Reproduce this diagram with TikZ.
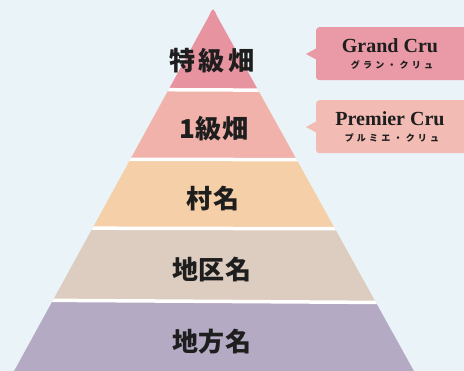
\documentclass[tikz,border=0pt]{standalone}
\usepackage{fontspec}
\setmainfont{Liberation Serif}
\newfontfamily\jp{Noto Sans CJK JP}
\definecolor{bgc}{HTML}{EAF4F8}
\definecolor{bandA}{HTML}{E893A0}
\definecolor{bandB}{HTML}{F0B2AA}
\definecolor{bandC}{HTML}{F5CFA8}
\definecolor{bandD}{HTML}{DDCCC0}
\definecolor{bandE}{HTML}{B4AAC3}
\definecolor{gcc}{HTML}{E99AA6}
\definecolor{pcc}{HTML}{F2BBB3}
\definecolor{ink}{HTML}{1E1E1E}
\newcommand\ks{\kern3.2pt}
\begin{document}
\begin{tikzpicture}[x=1pt,y=-1pt,
  jplabel/.style={font=\jp\bfseries\fontsize{26}{26}\selectfont, text=ink, inner sep=0pt},
  entitle/.style={font=\bfseries\fontsize{20}{20}\selectfont, text=ink, inner sep=0pt, anchor=base},
  kana/.style={font=\jp\bfseries\fontsize{9}{9}\selectfont, text=ink, inner sep=0pt},
  callbox/.style={rounded corners=3pt, minimum width=160pt, minimum height=53pt, anchor=north west, inner sep=0pt},
  sep/.style={draw=white, line width=3.5pt}]
\fill[bgc] (0,0) rectangle (464,371);
\useasboundingbox (0,0) rectangle (464,371);
% pyramid
\begin{scope}
\clip (13,373) -- (209,16) .. controls (213,7) .. (217,16) -- (415,373) -- cycle;
\fill[bandA] (0,0) rectangle (464,90);
\fill[bandB] (0,90) rectangle (464,160);
\fill[bandC] (0,160) rectangle (464,229);
\fill[bandD] (0,229) rectangle (464,302);
\fill[bandE] (0,302) rectangle (464,373);
\draw[sep] (0,89) -- (464,91);
\draw[sep] (0,159) -- (464,160);
\draw[sep] (0,228) -- (464,229);
\draw[sep] (0,300) -- (464,303);
\end{scope}
% labels
\node[jplabel] (tokkyu) at (212,61) {特\kern4pt 級\kern4pt 畑};
\node[jplabel] (ikkyu) at (214,129) {1\kern1pt 級\kern1pt 畑};
\node[jplabel] (son) at (213,199) {村\kern1pt 名};
\node[jplabel] (chiku) at (212,270) {地\kern1pt 区\kern1pt 名};
\node[jplabel] (chiho) at (212,342) {地\kern1pt 方\kern1pt 名};
% callouts
\node[callbox, fill=gcc] (gcbox) at (316,27) {};
\fill[gcc] (317,48) -- (306,54) -- (317,60) -- cycle;
\node[callbox, fill=pcc] (pcbox) at (316,100) {};
\fill[pcc] (317,121) -- (306,127) -- (317,133) -- cycle;
\node[entitle] (gc) at (390,53) {Grand Cru};
\node[kana] (gck) at (392,65) {グ\ks ラ\ks ン\ks ・\ks ク\ks リ\ks ュ};
\node[entitle] (pc) at (390,126) {Premier Cru};
\node[kana] (pck) at (392,138) {プ\ks ル\ks ミ\ks エ\ks ・\ks ク\ks リ\ks ュ};
\end{tikzpicture}
\end{document}
